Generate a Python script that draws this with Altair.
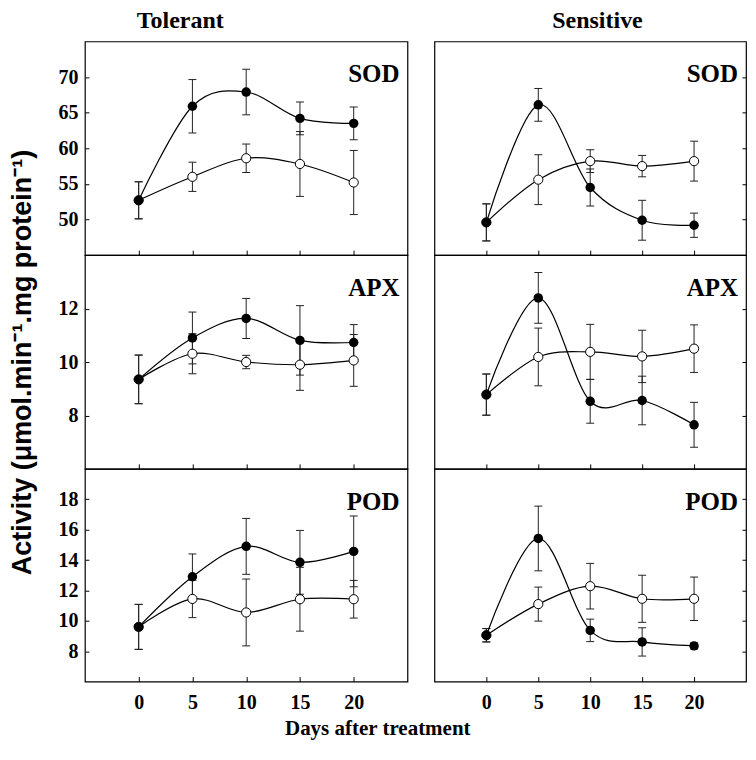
import altair as alt
import pandas as pd

days = [0, 5, 10, 15, 20]

# Tolerant
tol_sod_f = [52.7, 65.9, 67.9, 64.2, 63.5]
tol_sod_fe = [2.6, 3.75, 3.2, 2.3, 2.3]
tol_sod_o = [52.7, 56.0, 58.6, 57.8, 55.2]
tol_sod_oe = [2.6, 2.05, 2.0, 4.55, 4.5]

tol_apx_f = [9.35, 10.9, 11.63, 10.81, 10.73]
tol_apx_fe = [0.91, 0.97, 0.75, 1.3, 0.67]
tol_apx_o = [9.35, 10.31, 10.0, 9.9, 10.06]
tol_apx_oe = [0.91, 0.75, 0.25, 0.96, 0.97]

tol_pod_f = [9.6, 12.9, 14.9, 13.85, 14.57]
tol_pod_fe = [1.48, 1.5, 1.84, 2.1, 2.33]
tol_pod_o = [9.6, 11.44, 10.55, 11.42, 11.42]
tol_pod_oe = [1.48, 1.23, 2.2, 2.1, 1.24]

# Sensitive
sen_sod_f = [49.6, 66.1, 54.5, 49.9, 49.2]
sen_sod_fe = [2.6, 2.3, 2.6, 2.8, 1.7]
sen_sod_o = [49.6, 55.6, 58.2, 57.5, 58.2]
sen_sod_oe = [2.6, 3.5, 1.6, 1.5, 2.8]

sen_apx_f = [8.78, 12.4, 8.53, 8.56, 7.65]
sen_apx_fe = [0.77, 0.95, 0.82, 0.91, 0.84]
sen_apx_o = [8.78, 10.19, 10.38, 10.21, 10.5]
sen_apx_oe = [0.77, 1.08, 1.03, 0.98, 0.89]

sen_pod_f = [9.05, 15.42, 9.37, 8.61, 8.35]
sen_pod_fe = [0.44, 2.13, 0.74, 0.93, 0.2]
sen_pod_o = [9.05, 11.1, 12.28, 11.45, 11.45]
sen_pod_oe = [0.44, 1.12, 1.5, 1.55, 1.43]

sod_domain, sod_ticks = [45, 75], [50, 55, 60, 65, 70]
apx_domain, apx_ticks = [6, 14], [8, 10, 12]
pod_domain, pod_ticks = [6, 20], [8, 10, 12, 14, 16, 18]

SERIF = "Liberation Serif"
SANS = "Liberation Sans"
YTITLE = "Activity (\u03bcmol.min\u207b\u00b9.mg protein\u207b\u00b9)"


def panel(name, fm, fe, om, oe, dom, ticks, side, bottom, width, height,
          ytitle=None, title=None):
    rows = []
    for d, m, e in zip(days, om, oe):
        rows.append(dict(day=d, v=m, lo=m - e, hi=m + e, s="open"))
    for d, m, e in zip(days, fm, fe):
        rows.append(dict(day=d, v=m, lo=m - e, hi=m + e, s="filled"))
    df = pd.DataFrame(rows)

    xaxis = alt.Axis(values=days, offset=-5, tickSize=5, domain=False, grid=False,
                     labels=bottom, labelPadding=11, title=None)
    if side == "left":
        yaxis = alt.Axis(values=ticks, orient="left", offset=-4, tickSize=4, domain=False,
                         grid=False, labelPadding=7, title=ytitle,
                         titleFont=SANS, titleFontSize=27, titleFontWeight="bold",
                         titleColor="black", titlePadding=21)
    else:
        yaxis = alt.Axis(values=ticks, orient="right", offset=-4, tickSize=4, domain=False,
                         grid=False, labels=False, title=None)
    xs = alt.Scale(domain=[-5, 25], nice=False, zero=False)
    ys = alt.Scale(domain=dom, nice=False, zero=False)
    x = alt.X("day:Q", scale=xs, axis=xaxis)

    def Y(f):
        return alt.Y(f, scale=ys, axis=yaxis)

    base = alt.Chart(df)
    rules = base.mark_rule(color="#222222", strokeWidth=1).encode(x=x, y=Y("lo:Q"), y2="hi:Q")
    caps = base.transform_fold(["lo", "hi"], as_=["k", "e"]).mark_tick(
        orient="horizontal", size=8, thickness=1, color="#222222", opacity=1
    ).encode(x=x, y=Y("e:Q"))
    lines = base.mark_line(interpolate="cardinal", color="black", strokeWidth=1.2).encode(
        x=x, y=Y("v:Q"), detail="s:N")
    opens = base.transform_filter(alt.datum.s == "open").mark_point(
        shape="circle", filled=True, fill="white", stroke="black", strokeWidth=1,
        size=85, opacity=1).encode(x=x, y=Y("v:Q"))
    fills = base.transform_filter(alt.datum.s == "filled").mark_circle(
        color="black", size=90, opacity=1).encode(x=x, y=Y("v:Q"))
    label = alt.Chart(pd.DataFrame({"t": [name]})).mark_text(
        font=SERIF, fontSize=25, fontWeight="bold", align="right", baseline="alphabetic",
        color="black").encode(text="t:N", x=alt.value(width - 8), y=alt.value(41))
    ch = alt.layer(rules, caps, lines, opens, fills, label).properties(width=width, height=height)
    if title is not None:
        ch = ch.properties(title=title)
    return ch


LW, RW = 323, 312

t_tol = alt.TitleParams("Tolerant", anchor="start", frame="group", dx=52, font=SERIF,
                        fontSize=24, fontWeight="bold", color="black", offset=-11,
                        baseline="alphabetic")
t_sen = alt.TitleParams("Sensitive", anchor="start", frame="group", dx=118, font=SERIF,
                        fontSize=24, fontWeight="bold", color="black", offset=-11,
                        baseline="alphabetic")

charts = [
    panel("SOD", tol_sod_f, tol_sod_fe, tol_sod_o, tol_sod_oe, sod_domain, sod_ticks, "left", False, LW, 214, title=t_tol),
    panel("SOD", sen_sod_f, sen_sod_fe, sen_sod_o, sen_sod_oe, sod_domain, sod_ticks, "right", False, RW, 214, title=t_sen),
    panel("APX", tol_apx_f, tol_apx_fe, tol_apx_o, tol_apx_oe, apx_domain, apx_ticks, "left", False, LW, 214, ytitle=YTITLE),
    panel("APX", sen_apx_f, sen_apx_fe, sen_apx_o, sen_apx_oe, apx_domain, apx_ticks, "right", False, RW, 214),
    panel("POD", tol_pod_f, tol_pod_fe, tol_pod_o, tol_pod_oe, pod_domain, pod_ticks, "left", True, LW, 213),
    panel("POD", sen_pod_f, sen_pod_fe, sen_pod_o, sen_pod_oe, pod_domain, pod_ticks, "right", True, RW, 213),
]

chart = alt.concat(
    *charts, columns=2, spacing={"row": 0, "column": 27}, bounds="flush",
    title=alt.TitleParams("Days after treatment", orient="bottom", anchor="middle", font=SERIF,
                          fontSize=21, fontWeight="bold", color="black", offset=5),
).properties(
    padding={"left": 0, "top": 0, "right": 0, "bottom": 0}
).configure_view(
    stroke="black", strokeWidth=1.2
).configure_axis(
    labelFont=SERIF, labelFontSize=20, labelFontWeight="bold", labelColor="black",
    tickColor="black", tickWidth=1
)

chart.save("out.html", embed_options={"renderer": "svg", "actions": False})
